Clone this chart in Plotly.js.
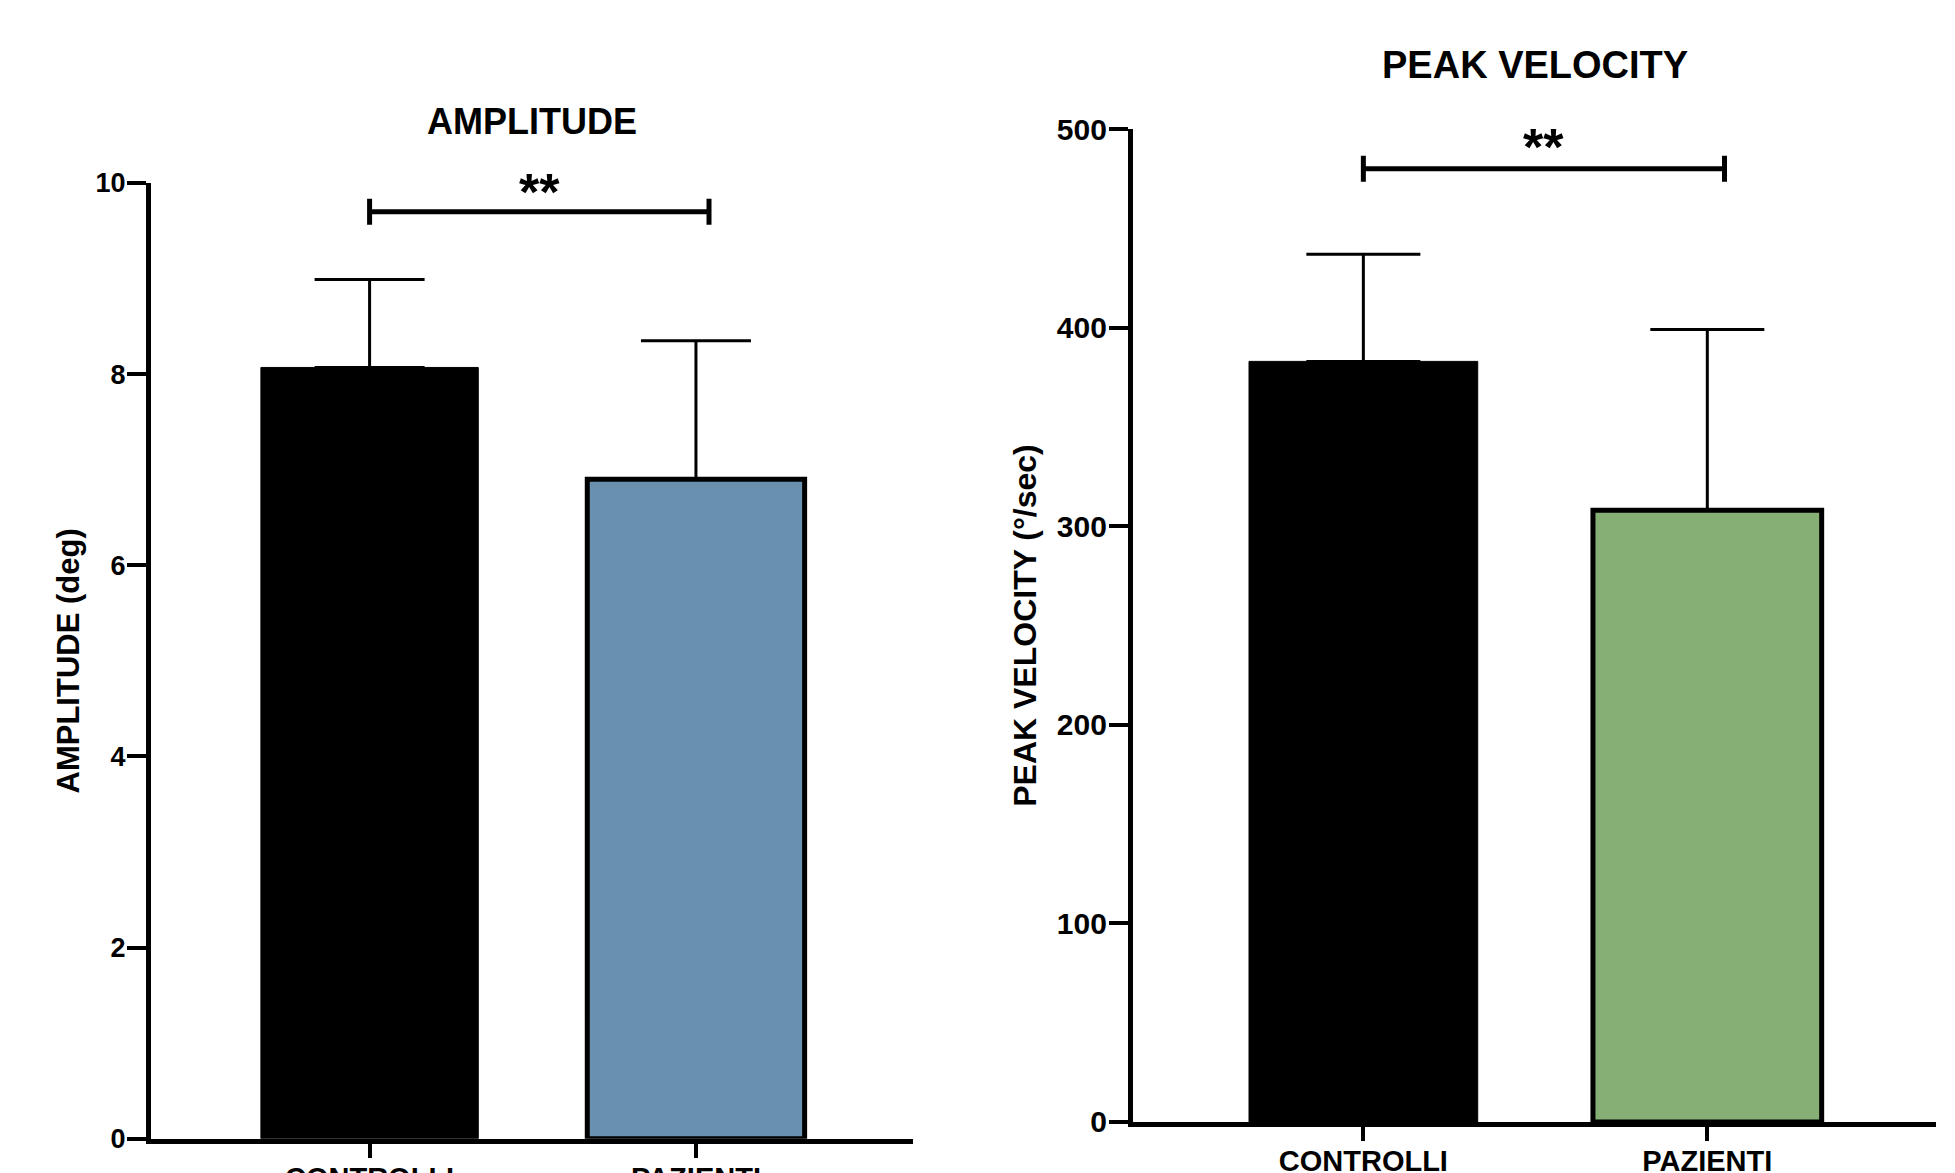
<!DOCTYPE html>
<html>
<head>
<meta charset="utf-8">
<script src="https://cdn.plot.ly/plotly-3.0.1.min.js"></script>
<style>
  html, body { margin: 0; padding: 0; background: #ffffff; }
  #chart { width: 1955px; height: 1173px; }
</style>
</head>
<body>
<div id="chart"></div>
<script>
// ---- data ----
const categories = ['CONTROLLI', 'PAZIENTI'];
const amplitudeMean = [8.07, 6.90];
const amplitudeSD = [0.92, 1.45];
const velocityMean = [383, 308];
const velocitySD = [54, 91];
const amplitudeTicks = [0, 2, 4, 6, 8, 10];
const velocityTicks = [0, 100, 200, 300, 400, 500];
const sigLabel = '**';
const amplitudeSigY = 9.7;
const velocitySigY = 480;
const panelTitles = ['AMPLITUDE', 'PEAK VELOCITY'];
const axisTitles = ['AMPLITUDE (deg)', 'PEAK VELOCITY (°/sec)'];

// ---- style ----
const FONT = 'Liberation Sans, Arial, Helvetica, sans-serif';
const ampColors = ['#000000', '#6a90b0'];
const velColors = ['#000000', '#85af74'];

const zeros = categories.map(() => 0);

const traces = [
  {
    type: 'bar', x: categories, y: amplitudeMean, xaxis: 'x', yaxis: 'y',
    width: 0.666,
    marker: { color: ampColors, line: { color: '#000000', width: [1, 5] } },
    error_y: { type: 'data', symmetric: false, array: amplitudeSD, arrayminus: zeros,
               color: '#000000', thickness: 3, width: 55 },
    hoverinfo: 'x+y', showlegend: false
  },
  {
    type: 'bar', x: categories, y: velocityMean, xaxis: 'x2', yaxis: 'y2',
    width: 0.665,
    marker: { color: velColors, line: { color: '#000000', width: [1, 5] } },
    error_y: { type: 'data', symmetric: false, array: velocitySD, arrayminus: zeros,
               color: '#000000', thickness: 3, width: 57 },
    hoverinfo: 'x+y', showlegend: false
  }
];

function bracket(xref, yref, y, xEnd) {
  const ln = { color: '#000000', width: 5 };
  return [
    { type: 'line', xref: xref, yref: yref, x0: 0, x1: xEnd, y0: y, y1: y, line: ln },
    { type: 'line', xref: xref, yref: yref, x0: 0, x1: 0, ysizemode: 'pixel', yanchor: y, y0: -13, y1: 13, line: ln },
    { type: 'line', xref: xref, yref: yref, x0: xEnd, x1: xEnd, ysizemode: 'pixel', yanchor: y, y0: -13, y1: 13, line: ln }
  ];
}

const xAxisBase = {
  type: 'category', range: [-0.67, 1.665], showline: true, linewidth: 5, linecolor: '#000000',
  ticks: 'outside', ticklen: 14, tickwidth: 4, tickcolor: '#000000',
  ticklabelstandoff: -5,
  tickfont: { family: FONT, size: 29, color: '#000000', weight: 'bold' },
  showgrid: false, zeroline: false, fixedrange: true
};
const yAxisBase = {
  showline: true, linewidth: 5, linecolor: '#000000',
  ticks: 'outside', ticklen: 19, tickwidth: 4, tickcolor: '#000000',
  ticklabelstandoff: -4,
  showgrid: false, zeroline: false, fixedrange: true
};

const layout = {
  width: 1955, height: 1173,
  margin: { l: 0, r: 0, t: 0, b: 0, pad: 0 },
  paper_bgcolor: '#ffffff', plot_bgcolor: '#ffffff',
  font: { family: FONT, color: '#000000' },
  bargap: 0.33,
  xaxis: Object.assign({}, xAxisBase, { domain: [0.0772, 0.467], anchor: 'y' }),
  yaxis: Object.assign({}, yAxisBase, {
    domain: [0.0292, 0.8440], anchor: 'x', range: [0, 10], tickvals: amplitudeTicks,
    tickfont: { family: FONT, size: 27, color: '#000000', weight: 'bold' },
    title: { text: axisTitles[0], standoff: 8, font: { family: FONT, size: 31, color: '#000000', weight: 'bold' } }
  }),
  xaxis2: Object.assign({}, xAxisBase, { domain: [0.5795, 0.9903], anchor: 'y2' }),
  yaxis2: Object.assign({}, yAxisBase, {
    domain: [0.0435, 0.8900], anchor: 'x2', range: [0, 500], tickvals: velocityTicks,
    tickfont: { family: FONT, size: 30, color: '#000000', weight: 'bold' },
    title: { text: axisTitles[1], standoff: 12, font: { family: FONT, size: 32, color: '#000000', weight: 'bold' } }
  }),
  shapes: [].concat(
    bracket('x', 'y', amplitudeSigY, 1.04),
    bracket('x2', 'y2', velocitySigY, 1.05)
  ),
  annotations: [
    { text: panelTitles[0], xref: 'paper', yref: 'paper', x: 0.2721, y: 0.8968,
      xanchor: 'center', yanchor: 'middle', showarrow: false,
      font: { family: FONT, size: 36, color: '#000000', weight: 'bold' } },
    { text: panelTitles[1], xref: 'paper', yref: 'paper', x: 0.7852, y: 0.9446,
      xanchor: 'center', yanchor: 'middle', showarrow: false,
      font: { family: FONT, size: 38, color: '#000000', weight: 'bold' } },
    { text: sigLabel, xref: 'x', yref: 'y', x: 0.52, y: amplitudeSigY,
      xanchor: 'center', yanchor: 'middle', yshift: 20, showarrow: false,
      font: { family: FONT, size: 52, color: '#000000', weight: 'bold' } },
    { text: sigLabel, xref: 'x2', yref: 'y2', x: 0.525, y: velocitySigY,
      xanchor: 'center', yanchor: 'middle', yshift: 22, showarrow: false,
      font: { family: FONT, size: 52, color: '#000000', weight: 'bold' } }
  ]
};

Plotly.newPlot('chart', traces, layout, { displayModeBar: false, staticPlot: true });
</script>
</body>
</html>
